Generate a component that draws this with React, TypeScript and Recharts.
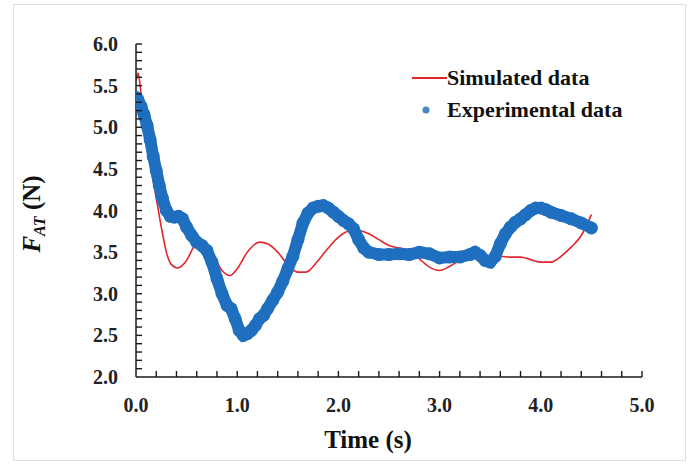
import { ComposedChart, Line, Scatter, XAxis, YAxis } from 'recharts'

// ---------------------------------------------------------------------------
// Data
// ---------------------------------------------------------------------------

const simTime = [
  0, 0.02, 0.05, 0.1, 0.15, 0.2, 0.25, 0.3, 0.35, 0.41, 0.5, 0.58, 0.67, 0.75, 0.85, 0.93, 1.0, 1.1,
  1.22, 1.3, 1.4, 1.5, 1.6, 1.68, 1.8, 1.9, 2.0, 2.1, 2.2, 2.3, 2.4, 2.5, 2.6, 2.7, 2.8, 2.9, 3.0,
  3.1, 3.2, 3.3, 3.4, 3.5, 3.6, 3.7, 3.8, 3.9, 4.0, 4.1, 4.2, 4.3, 4.4, 4.5,
]
const simForce = [
  5.55, 5.65, 5.4, 4.9, 4.5, 4.15, 3.8, 3.5, 3.35, 3.31, 3.4, 3.58, 3.64, 3.5, 3.28, 3.22, 3.3, 3.5,
  3.62, 3.6, 3.5, 3.35, 3.26, 3.26, 3.4, 3.55, 3.68, 3.75, 3.76, 3.72, 3.65, 3.58, 3.55, 3.52, 3.42,
  3.32, 3.28, 3.33, 3.4, 3.43, 3.45, 3.45, 3.45, 3.44, 3.44, 3.41, 3.38, 3.38, 3.45, 3.56, 3.7, 3.95,
]

const expTime = [
  0, 0.02, 0.05, 0.08, 0.11, 0.14, 0.17, 0.2, 0.23, 0.26, 0.3, 0.34, 0.38, 0.42, 0.46, 0.5, 0.55,
  0.6, 0.65, 0.7, 0.75, 0.8, 0.85, 0.9, 0.94, 0.98, 1.02, 1.06, 1.1, 1.14, 1.18, 1.22, 1.26, 1.3,
  1.35, 1.4, 1.45, 1.5, 1.55, 1.6, 1.65, 1.7, 1.75, 1.8, 1.85, 1.9, 1.95, 2.0, 2.05, 2.1, 2.15, 2.2,
  2.25, 2.3, 2.4, 2.5, 2.6, 2.7, 2.8, 2.9, 3.0, 3.1, 3.2, 3.3, 3.35, 3.4, 3.45, 3.5, 3.55, 3.6, 3.65,
  3.7, 3.75, 3.8, 3.85, 3.9, 3.95, 4.0, 4.05, 4.1, 4.2, 4.3, 4.4, 4.5,
]
const expForce = [
  5.36, 5.33, 5.25, 5.15, 5.02, 4.85, 4.65, 4.48, 4.3, 4.15, 4.0, 3.93, 3.92, 3.93, 3.9, 3.8, 3.7,
  3.62, 3.58, 3.52, 3.38, 3.18, 3.0, 2.86, 2.82, 2.7, 2.56, 2.5, 2.52, 2.56, 2.62, 2.7, 2.74, 2.82,
  2.92, 3.02, 3.15, 3.3, 3.45, 3.65, 3.85, 3.97, 4.03, 4.05, 4.06, 4.03, 3.98, 3.93, 3.88, 3.84, 3.78,
  3.65, 3.55, 3.5, 3.47, 3.47, 3.48, 3.47, 3.5, 3.48, 3.43, 3.44, 3.44, 3.47, 3.5, 3.46, 3.4, 3.38,
  3.45, 3.6, 3.72, 3.8, 3.86, 3.9, 3.95, 4.0, 4.03, 4.03, 4.01, 3.98, 3.94, 3.9, 3.85, 3.79,
]

// labelled ticks
const xTicks = [0, 1, 2, 3, 4, 5]
const yTicks = [2, 2.5, 3, 3.5, 4, 4.5, 5, 5.5, 6]
// every tick mark (short, pointing into the plot)
const xMinorTicks = [
  0.2, 0.4, 0.6, 0.8, 1.0, 1.2, 1.4, 1.6, 1.8, 2.0, 2.2, 2.4, 2.6, 2.8, 3.0, 3.2, 3.4, 3.6, 3.8,
  4.0, 4.2, 4.4, 4.6, 4.8, 5.0,
]
const yMinorTicks = [
  2.1, 2.2, 2.3, 2.4, 2.5, 2.6, 2.7, 2.8, 2.9, 3.0, 3.1, 3.2, 3.3, 3.4, 3.5, 3.6, 3.7, 3.8, 3.9,
  4.0, 4.1, 4.2, 4.3, 4.4, 4.5, 4.6, 4.7, 4.8, 4.9, 5.0, 5.1, 5.2, 5.3, 5.4, 5.5, 5.6, 5.7, 5.8, 5.9,
  6.0,
]

// ---------------------------------------------------------------------------
// Layout / styling
// ---------------------------------------------------------------------------

const FONT = "'Liberation Serif', 'Times New Roman', serif"
const RED = '#e2262b'
const BLUE = '#1f6fc0'
const AXIS = '#1a1a1a'

const W = 696
const H = 464
const MARGIN = { top: 44, right: 54, bottom: 86, left: 135 }
// the 1px-wide axes sit between the margin and the plot
const PLOT_L = MARGIN.left + 1
const PLOT_R = W - MARGIN.right
const PLOT_T = MARGIN.top
const PLOT_B = H - MARGIN.bottom - 1
const X_DOMAIN = [0, 5]
const Y_DOMAIN = [2, 6]
const TICK_PX = 6

const sx = (t: number) => PLOT_L + ((t - X_DOMAIN[0]) / (X_DOMAIN[1] - X_DOMAIN[0])) * (PLOT_R - PLOT_L)
const sy = (v: number) => PLOT_B - ((v - Y_DOMAIN[0]) / (Y_DOMAIN[1] - Y_DOMAIN[0])) * (PLOT_B - PLOT_T)

const simData = simTime.map((t, i) => ({ t, v: simForce[i] }))
const expData = expTime.map((t, i) => ({ t, v: expForce[i] }))

const tickStyle = { fill: '#222', fontSize: 20, fontWeight: 'bold', fontFamily: FONT }
const fmt = (n: number) => n.toFixed(1)

function YTitle() {
  return (
    <text
      x={40}
      y={214}
      transform="rotate(-90 40 214)"
      textAnchor="middle"
      fontFamily={FONT}
      fontWeight="bold"
      fontSize={25}
      fill="#111"
    >
      <tspan fontStyle="italic">F</tspan>
      <tspan fontStyle="italic" fontSize={16} dy={5}>AT</tspan>
      <tspan dy={-5}> (N)</tspan>
    </text>
  )
}

function XTitle() {
  return (
    <text x={368} y={448} textAnchor="middle" fontFamily={FONT} fontWeight="bold" fontSize={25} fill="#111">
      Time (s)
    </text>
  )
}

function ExpDot(props: { cx?: number; cy?: number }) {
  const { cx, cy } = props
  if (cx == null || cy == null) return null
  return <circle cx={cx} cy={cy} r={6.5} fill={BLUE} />
}

// inward minor tick marks, drawn as an svg overlay on the axis lines
function TickMarks() {
  return (
    <svg width={W} height={H} style={{ position: 'absolute', left: 0, top: 0, pointerEvents: 'none' }}>
      {xMinorTicks.map((t) => (
        <line key={`x${t}`} x1={sx(t)} x2={sx(t)} y1={PLOT_B} y2={PLOT_B - TICK_PX} stroke={AXIS} strokeWidth={1.4} />
      ))}
      {yMinorTicks.map((v) => (
        <line key={`y${v}`} x1={PLOT_L} x2={PLOT_L + TICK_PX} y1={sy(v)} y2={sy(v)} stroke={AXIS} strokeWidth={1.4} />
      ))}
    </svg>
  )
}

// ---------------------------------------------------------------------------
// Legend (plain HTML overlay)
// ---------------------------------------------------------------------------

function LegendBox() {
  const row = { display: 'flex', alignItems: 'center', height: 32 }
  const label = { fontFamily: FONT, fontWeight: 'bold' as const, fontSize: 22, color: '#111', whiteSpace: 'nowrap' as const }
  return (
    <div style={{ position: 'absolute', left: 412, top: 62 }}>
      <div style={row}>
        <svg width={35} height={10}>
          <line x1={0} y1={5} x2={35} y2={5} stroke={RED} strokeWidth={2} />
        </svg>
        <span style={label}>Simulated data</span>
      </div>
      <div style={row}>
        <svg width={35} height={10}>
          <circle cx={14} cy={5} r={3.5} fill="#4a86c6" />
        </svg>
        <span style={label}>Experimental data</span>
      </div>
    </div>
  )
}

// ---------------------------------------------------------------------------
// App
// ---------------------------------------------------------------------------

export default function App() {
  return (
    <div style={{ position: 'absolute', left: 0, top: 0, width: W, height: H, background: '#fff' }}>
      {/* outer frame */}
      <div
        style={{
          position: 'absolute',
          left: 13,
          top: 4,
          width: 671,
          height: 455,
          border: '1px solid #dedede',
        }}
      />
      <div style={{ position: 'absolute', left: 0, top: 0 }}>
        <ComposedChart width={W} height={H} margin={MARGIN}>
          <XAxis
            xAxisId="x"
            dataKey="t"
            type="number"
            domain={X_DOMAIN}
            ticks={xTicks}
            interval={0}
            tickFormatter={fmt}
            tick={tickStyle}
            tickLine={false}
            tickSize={0}
            tickMargin={21}
            height={1}
            allowDataOverflow
            axisLine={{ stroke: AXIS, strokeWidth: 1.5 }}
            label={<XTitle />}
          />
          <YAxis
            yAxisId="y"
            type="number"
            domain={Y_DOMAIN}
            ticks={yTicks}
            interval={0}
            tickFormatter={fmt}
            tick={tickStyle}
            tickLine={false}
            tickSize={0}
            tickMargin={18}
            width={1}
            allowDataOverflow
            axisLine={{ stroke: AXIS, strokeWidth: 1.5 }}
            label={<YTitle />}
          />

          <Scatter
            xAxisId="x"
            yAxisId="y"
            data={expData}
            dataKey="v"
            fill={BLUE}
            line={{ stroke: BLUE, strokeWidth: 12 }}
            shape={<ExpDot />}
            isAnimationActive={false}
          />
          <Line
            xAxisId="x"
            yAxisId="y"
            data={simData}
            dataKey="v"
            type="monotone"
            stroke={RED}
            strokeWidth={1.6}
            dot={false}
            activeDot={false}
            isAnimationActive={false}
          />
        </ComposedChart>
      </div>
      <TickMarks />
      <LegendBox />
    </div>
  )
}
